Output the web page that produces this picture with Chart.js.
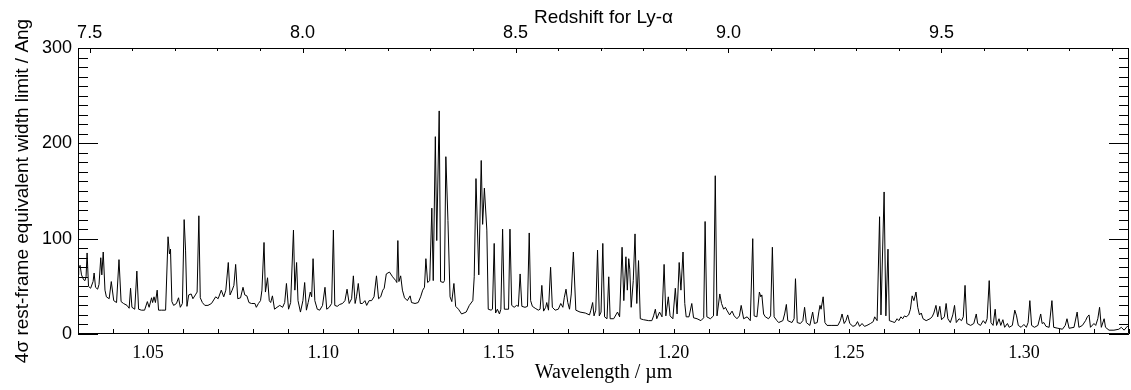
<!DOCTYPE html>
<html>
<head>
<meta charset="utf-8">
<script src="https://cdn.jsdelivr.net/npm/chart.js@4.4.1/dist/chart.umd.min.js"></script>
<style>
  html, body { margin: 0; padding: 0; background: #fff; }
  #wrap { width: 1131px; height: 390px; }
</style>
</head>
<body>
<div id="wrap"><canvas id="EwChart"></canvas></div>
<script>
// wavelength in micron
const wavelength = [
  1.0300, 1.0302, 1.0306, 1.0310, 1.0316, 1.0320, 1.0323, 1.0326, 1.0330, 1.0336,
  1.0343, 1.0346, 1.0350, 1.0356, 1.0360, 1.0365, 1.0368, 1.0372, 1.0377, 1.0381,
  1.0389, 1.0395, 1.0402, 1.0410, 1.0417, 1.0423, 1.0430, 1.0440, 1.0446, 1.0450,
  1.0454, 1.0462, 1.0468, 1.0473, 1.0481, 1.0490, 1.0498, 1.0503, 1.0510, 1.0513,
  1.0517, 1.0521, 1.0526, 1.0530, 1.0538, 1.0550, 1.0557, 1.0561, 1.0564, 1.0568,
  1.0573, 1.0581, 1.0587, 1.0592, 1.0598, 1.0603, 1.0607, 1.0611, 1.0616, 1.0623,
  1.0628, 1.0635, 1.0640, 1.0645, 1.0649, 1.0655, 1.0662, 1.0671, 1.0681, 1.0693,
  1.0700, 1.0709, 1.0716, 1.0722, 1.0729, 1.0734, 1.0740, 1.0745, 1.0750, 1.0756,
  1.0764, 1.0771, 1.0776, 1.0782, 1.0788, 1.0795, 1.0805, 1.0809, 1.0815, 1.0821,
  1.0825, 1.0831, 1.0835, 1.0841, 1.0846, 1.0850, 1.0855, 1.0861, 1.0868, 1.0876,
  1.0884, 1.0890, 1.0895, 1.0901, 1.0907, 1.0915, 1.0919, 1.0924, 1.0928, 1.0935,
  1.0942, 1.0947, 1.0952, 1.0957, 1.0963, 1.0967, 1.0971, 1.0976, 1.0983, 1.0990,
  1.0998, 1.1005, 1.1010, 1.1017, 1.1024, 1.1029, 1.1033, 1.1040, 1.1047, 1.1055,
  1.1062, 1.1068, 1.1074, 1.1081, 1.1086, 1.1091, 1.1095, 1.1100, 1.1106, 1.1112,
  1.1119, 1.1124, 1.1131, 1.1138, 1.1145, 1.1152, 1.1158, 1.1164, 1.1170, 1.1174,
  1.1180, 1.1189, 1.1198, 1.1207, 1.1210, 1.1213, 1.1216, 1.1221, 1.1226, 1.1232,
  1.1240, 1.1248, 1.1252, 1.1262, 1.1271, 1.1278, 1.1284, 1.1289, 1.1293, 1.1298,
  1.1304, 1.1310, 1.1314, 1.1320, 1.1324, 1.1331, 1.1335, 1.1343, 1.1346, 1.1350,
  1.1356, 1.1362, 1.1367, 1.1373, 1.1378, 1.1386, 1.1395, 1.1408, 1.1417, 1.1427,
  1.1431, 1.1436, 1.1444, 1.1451, 1.1455, 1.1460, 1.1467, 1.1471, 1.1479, 1.1483,
  1.1488, 1.1492, 1.1497, 1.1503, 1.1507, 1.1512, 1.1517, 1.1529, 1.1533, 1.1538,
  1.1545, 1.1552, 1.1557, 1.1562, 1.1567, 1.1576, 1.1583, 1.1588, 1.1592, 1.1597,
  1.1605, 1.1614, 1.1619, 1.1624, 1.1629, 1.1635, 1.1638, 1.1643, 1.1649, 1.1654,
  1.1662, 1.1671, 1.1678, 1.1684, 1.1688, 1.1693, 1.1698, 1.1703, 1.1708, 1.1714,
  1.1721, 1.1733, 1.1748, 1.1760, 1.1764, 1.1769, 1.1773, 1.1778, 1.1783, 1.1788,
  1.1793, 1.1798, 1.1803, 1.1810, 1.1815, 1.1819, 1.1829, 1.1840, 1.1846, 1.1853,
  1.1858, 1.1864, 1.1868, 1.1872, 1.1875, 1.1879, 1.1885, 1.1890, 1.1895, 1.1900,
  1.1905, 1.1914, 1.1929, 1.1938, 1.1943, 1.1948, 1.1952, 1.1960, 1.1967, 1.1973,
  1.1978, 1.1985, 1.1990, 1.1998, 1.2005, 1.2010, 1.2016, 1.2021, 1.2027, 1.2032,
  1.2036, 1.2044, 1.2052, 1.2057, 1.2067, 1.2078, 1.2086, 1.2090, 1.2095, 1.2105,
  1.2114, 1.2119, 1.2124, 1.2132, 1.2137, 1.2143, 1.2148, 1.2152, 1.2160, 1.2167,
  1.2173, 1.2181, 1.2188, 1.2193, 1.2200, 1.2210, 1.2219, 1.2226, 1.2230, 1.2238,
  1.2245, 1.2249, 1.2252, 1.2257, 1.2262, 1.2271, 1.2277, 1.2282, 1.2287, 1.2295,
  1.2300, 1.2312, 1.2317, 1.2322, 1.2326, 1.2338, 1.2344, 1.2348, 1.2353, 1.2362,
  1.2369, 1.2374, 1.2379, 1.2389, 1.2397, 1.2402, 1.2410, 1.2415, 1.2418, 1.2421,
  1.2427, 1.2432, 1.2438, 1.2452, 1.2469, 1.2476, 1.2481, 1.2487, 1.2492, 1.2497,
  1.2503, 1.2512, 1.2519, 1.2525, 1.2531, 1.2538, 1.2545, 1.2552, 1.2562, 1.2570,
  1.2574, 1.2581, 1.2588, 1.2592, 1.2601, 1.2606, 1.2612, 1.2616, 1.2624, 1.2631,
  1.2638, 1.2643, 1.2649, 1.2654, 1.2659, 1.2664, 1.2671, 1.2676, 1.2681, 1.2686,
  1.2692, 1.2697, 1.2702, 1.2707, 1.2712, 1.2721, 1.2732, 1.2738, 1.2743, 1.2749,
  1.2754, 1.2760, 1.2765, 1.2773, 1.2778, 1.2783, 1.2790, 1.2797, 1.2802, 1.2807,
  1.2815, 1.2822, 1.2827, 1.2832, 1.2837, 1.2848, 1.2857, 1.2864, 1.2868, 1.2876,
  1.2884, 1.2890, 1.2895, 1.2901, 1.2906, 1.2912, 1.2918, 1.2922, 1.2929, 1.2934,
  1.2940, 1.2945, 1.2953, 1.2958, 1.2967, 1.2974, 1.2979, 1.2984, 1.2992, 1.3000,
  1.3007, 1.3012, 1.3017, 1.3022, 1.3030, 1.3040, 1.3048, 1.3052, 1.3057, 1.3063,
  1.3072, 1.3080, 1.3085, 1.3097, 1.3110, 1.3118, 1.3123, 1.3129, 1.3143, 1.3152,
  1.3157, 1.3167, 1.3176, 1.3181, 1.3186, 1.3190, 1.3200, 1.3205, 1.3211, 1.3216,
  1.3221, 1.3229, 1.3233, 1.3243, 1.3257, 1.3271, 1.3278, 1.3286, 1.3295, 1.3300
];

// 4 sigma rest-frame EW limit (Ang), same order as wavelength
const ewLimit = [
   62,  70,  72,  62,  57,  56,  60,  85,  50,  48,
   55,  64,  49,  47,  52,  80,  62,  86,  46,  39,
   37,  55,  35,  33,  78,  34,  32,  30,  27,  48,
   28,  26,  66,  26,  25,  25,  34,  28,  38,  33,
   39,  33,  46,  25,  25,  25, 102,  84,  89,  34,
   30,  32,  38,  28,  32, 120,  88,  29,  41,  42,
   37,  41,  44, 124,  38,  33,  30,  30,  32,  39,
   37,  46,  39,  46,  75,  41,  46,  51,  73,  37,
   38,  49,  41,  40,  33,  32,  32,  28,  32,  35,
   46,  96,  44,  59,  35,  33,  40,  26,  28,  30,
   28,  33,  53,  26,  33, 109,  46,  75,  35,  23,
   35,  54,  25,  33,  44,  39,  79,  35,  26,  25,
   30,  49,  26,  28,  32, 109,  30,  29,  31,  32,
   35,  47,  32,  37,  61,  32,  39,  53,  32,  32,
   35,  30,  35,  35,  39,  61,  37,  39,  46,  48,
   63,  65,  60,  56,  54,  98,  55,  61,  46,  38,
   35,  40,  33,  32,  33,  39,  46,  49,  79,  54,
   56, 132,  56, 207,  98, 234,  55,  54,  56, 186,
  119,  39,  34,  53,  29,  26,  21,  23,  30,  35,
   60, 163,  62, 182, 115, 153, 109,  26,  25,  26,
   95,  22,  26,  21,  26, 110,  26,  26, 110,  30,
   28,  30,  29,  63,  29,  28,  29, 106,  35,  29,
   27,  25,  26,  51,  24,  28,  33,  25,  70,  28,
   25,  26,  32,  28,  38,  47,  33,  26,  42,  86,
   25,  23,  22,  20,  25,  33,  19,  25,  88,  19,
   23,  95,  18,  16,  60,  16,  16,  23,  18,  91,
   35,  81,  46,  79,  68,  28,  56, 105,  32,  77,
   16,  15,  14,  14,  19,  26,  16,  23,  18,  73,
   19,  39,  19,  16,  48,  21,  75,  46,  86,  32,
   18,  18,  32,  17,  16,  14,  17, 118,  18,  16,
   19, 166,  19,  42,  32,  26,  28,  25,  20,  24,
   19,  16,  19,  30,  16,  18,  14, 100,  19,  18,
   44,  39,  41,  21,  18,  16,  19,  91,  18,  14,
   12,  14,  21,  31,  14,  12,  16,  58,  12,  11,
   14,  28,  12,   9,  23,  11,  12,  24,  30,  26,
   39,  12,   9,   9,   9,  14,  21,  11,  14,  20,
   11,   8,   9,  13,   8,  11,   8,   9,  11,  13,
   18,  14, 123,  20, 149,  19,  89,  14,  13,  12,
   16,  14,  18,  16,  19,  18,  20,  26,  40,  35,
   44,  28,  20,  22,  16,  14,  16,  18,  22,  30,
   18,  29,  15,  18,  32,  16,  12,  20,  30,  12,
   16,  14,  18,  51,  11,   9,  11,  21,  11,   9,
   14,  11,  16,  56,  12,   9,  26,   9,  16,   9,
   15,   7,  11,   7,   9,  25,  19,   9,   7,  10,
    7,  12,  35,   9,   7,   9,  21,  11,  12,   8,
    7,  35,   7,   6,   5,   9,  16,   6,   7,  23,
    7,   9,  14,  18,  20,   7,  11,   9,  16,  28,
    7,  16,   7,   4,   4,   5,   7,   4,   8,   7
];

const lambdaRange = [1.03, 1.33];      // micron
const redshiftRange = [7.4727, 9.9405]; // Ly-alpha redshift at the same edges
const ewRange = [0, 300];

const lambdaTicks = [1.05, 1.10, 1.15, 1.20, 1.25, 1.30];
const redshiftTicks = [7.5, 8.0, 8.5, 9.0, 9.5];
const ewTicks = [0, 100, 200, 300];

const points = wavelength.map((w, i) => ({x: w, y: ewLimit[i]}));

// IDL style inward ticks on all four sides plus the frame
const frameTicks = {
    id: 'frameTicks',
    afterDraw(chart) {
        const {ctx, chartArea: a, scales} = chart;
        const xs = scales.x, zs = scales.x2, ys = scales.y;
        ctx.save();
        ctx.strokeStyle = '#000';
        ctx.lineWidth = 1;
        ctx.beginPath();
        ctx.rect(a.left + 0.5, a.top + 0.5, a.right - a.left - 1, a.bottom - a.top - 1);
        for (let i = 0; i <= 30; i++) {
            const px = Math.round(xs.getPixelForValue(1.03 + i * 0.01)) + 0.5;
            ctx.moveTo(px, a.bottom);
            ctx.lineTo(px, a.bottom - 5);
        }
        for (let i = 75; i <= 99; i++) {
            const px = Math.round(zs.getPixelForValue(i / 10)) + 0.5;
            const len = i % 5 === 0 ? 5 : 3;
            ctx.moveTo(px, a.top);
            ctx.lineTo(px, a.top + len);
        }
        for (let i = 0; i <= 30; i++) {
            const py = Math.round(ys.getPixelForValue(i * 10)) + 0.5;
            const len = i % 10 === 0 ? 20 : 10;
            ctx.moveTo(a.left, py);
            ctx.lineTo(a.left + len, py);
            ctx.moveTo(a.right, py);
            ctx.lineTo(a.right - len, py);
        }
        ctx.stroke();
        ctx.restore();
    }
};

const sans = 'Liberation Sans, Arial, Helvetica, sans-serif';
const serif = 'Liberation Serif, Times New Roman, serif';

const fixTicks = list => scale => { scale.ticks = list.map(v => ({value: v})); };

const config = {
    type: 'scatter',
    data: {
        datasets: [{
            data: points,
            showLine: true,
            borderColor: '#000',
            borderWidth: 1,
            pointRadius: 0,
            tension: 0,
            xAxisID: 'x',
            yAxisID: 'y'
        }]
    },
    options: {
        responsive: true,
        maintainAspectRatio: false,
        animation: false,
        layout: { padding: { left: 0, right: 2, top: 0, bottom: 0 } },
        plugins: {
            legend: { display: false },
            tooltip: { enabled: false }
        },
        scales: {
            x: {
                type: 'linear',
                position: 'bottom',
                min: lambdaRange[0],
                max: lambdaRange[1],
                grid: { display: false, drawTicks: false },
                border: { display: false },
                afterBuildTicks: fixTicks(lambdaTicks),
                ticks: {
                    padding: 8,
                    color: '#000',
                    font: { family: serif, size: 18 },
                    callback: v => v.toFixed(2)
                },
                title: {
                    display: true,
                    text: 'Wavelength / \u00b5m',
                    color: '#000',
                    font: { family: serif, size: 20 },
                    padding: { top: 0, bottom: 5 }
                },
                afterFit: s => { s.height = 56; s.paddingLeft = 0; s.paddingRight = 0; }
            },
            x2: {
                type: 'linear',
                position: 'top',
                min: redshiftRange[0],
                max: redshiftRange[1],
                grid: { display: false, drawTicks: false },
                border: { display: false },
                afterBuildTicks: fixTicks(redshiftTicks),
                ticks: {
                    padding: 4,
                    color: '#000',
                    font: { family: sans, size: 18 },
                    callback: v => v.toFixed(1)
                },
                title: {
                    display: true,
                    text: 'Redshift for Ly-\u03b1',
                    color: '#000',
                    font: { family: sans, size: 19 },
                    padding: { top: 6, bottom: 0 }
                },
                afterFit: s => { s.height = 48; s.paddingLeft = 0; s.paddingRight = 0; }
            },
            y: {
                type: 'linear',
                position: 'left',
                min: ewRange[0],
                max: ewRange[1],
                grid: { display: false, drawTicks: false },
                border: { display: false },
                afterBuildTicks: fixTicks(ewTicks),
                ticks: {
                    padding: 6,
                    color: '#000',
                    font: { family: sans, size: 18 }
                },
                title: {
                    display: true,
                    text: '4\u03c3 rest-frame equivalent width limit / Ang',
                    color: '#000',
                    font: { family: sans, size: 19 },
                    padding: { top: 11, bottom: 0 }
                },
                afterFit: s => { s.width = 78; s.paddingTop = 0; s.paddingBottom = 0; }
            }
        }
    },
    plugins: [frameTicks]
};

const chart = new Chart(document.getElementById('EwChart'), config);
</script>
</body>
</html>
